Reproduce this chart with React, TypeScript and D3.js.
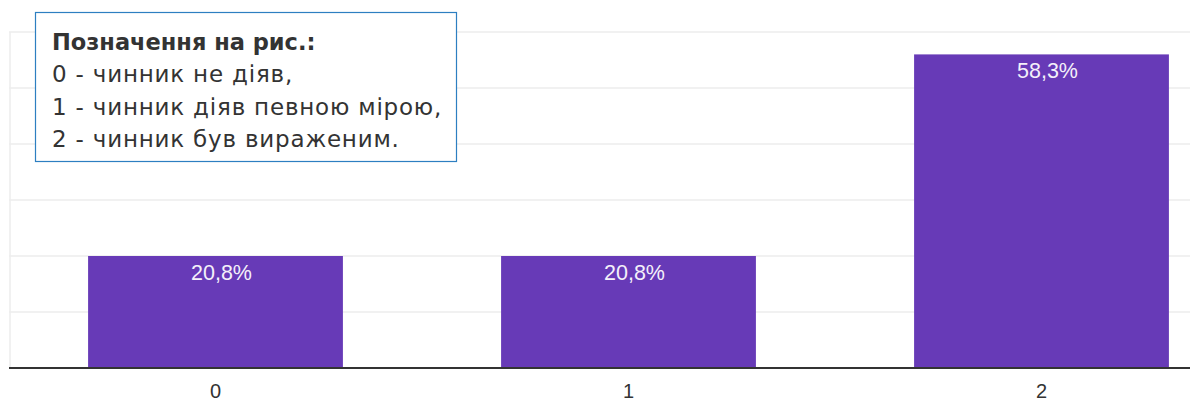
import React from "react";
import * as d3 from "d3";

const categories: string[] = ["0", "1", "2"];
const counts: number[] = [5, 5, 14];
const percentLabels: string[] = ["20,8%", "20,8%", "58,3%"];
const gridTicks: number[] = [0, 2.5, 5, 7.5, 10, 12.5, 15];
const legendTitle = "Позначення на рис.:";
const legendLines: string[] = [
  "0 - чинник не діяв,",
  "1 - чинник діяв певною мірою,",
  "2 - чинник був вираженим.",
];

const W = 1190;
const H = 403;

export default function App() {
  const x = d3
    .scaleBand<string>()
    .domain(categories)
    .range([9, 1248])
    .paddingInner(0.383)
    .paddingOuter(0.1915);
  const y = d3.scaleLinear().domain([0, 15]).range([368, 32]);

  return (
    <svg
      width={W}
      height={H}
      style={{ position: "absolute", left: 0, top: 0, background: "#fff" }}
    >
      {gridTicks.map((t) => (
        <line
          key={t}
          x1={9}
          x2={W}
          y1={y(t)}
          y2={y(t)}
          stroke="#ececec"
          strokeWidth={1.5}
        />
      ))}
      <line x1={10} x2={10} y1={y(15)} y2={y(0)} stroke="#ececec" strokeWidth={1.5} />
      {categories.map((c, i) => (
        <g key={c}>
          <rect
            x={x(c)}
            y={y(counts[i])}
            width={x.bandwidth()}
            height={y(0) - y(counts[i])}
            fill="#673ab7"
          />
          <text
            x={(x(c) as number) + x.bandwidth() / 2 + 6}
            y={y(counts[i]) + 24}
            textAnchor="middle"
            fill="#f4f0fa"
            fontFamily="Liberation Sans, Arial, sans-serif"
            fontSize={21.5}
          >
            {percentLabels[i]}
          </text>
          <text
            x={(x(c) as number) + x.bandwidth() / 2}
            y={398}
            textAnchor="middle"
            fill="#333"
            fontFamily="Liberation Sans, Arial, sans-serif"
            fontSize={20}
          >
            {c}
          </text>
        </g>
      ))}
      <line x1={9} x2={W} y1={y(0)} y2={y(0)} stroke="#333" strokeWidth={2} />
      <rect
        x={35.5}
        y={12.5}
        width={421}
        height={149}
        fill="#fff"
        stroke="#2d7fc1"
        strokeWidth={1.2}
      />
      <g fontFamily="DejaVu Sans, sans-serif" fill="#333">
        <text x={52} y={50} fontWeight="bold" fontSize={22.5}>
          {legendTitle}
        </text>
        {legendLines.map((l, i) => (
          <text key={i} x={52} y={82 + i * 32.5} fontSize={23} letterSpacing={0.8}>
            {l}
          </text>
        ))}
      </g>
    </svg>
  );
}
